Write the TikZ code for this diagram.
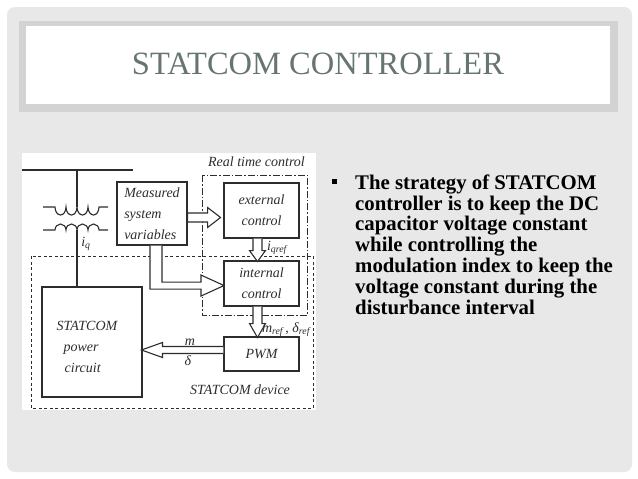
\documentclass[tikz,border=0pt]{standalone}
\usepackage{fontspec}
\setmainfont{Liberation Serif}
\usetikzlibrary{calc,positioning}

\definecolor{slide}{RGB}{232,232,232}
\definecolor{frame}{RGB}{211,211,211}
\definecolor{titlegray}{RGB}{102,118,110}
\definecolor{ink}{RGB}{45,45,45}

\begin{document}
\begin{tikzpicture}[x=1pt, y=-1pt,
    box/.style={draw=ink, line width=1.1pt, fill=white, inner sep=0pt},
    dtext/.style={font=\itshape\fontsize{14}{21}\selectfont, text=ink, inner sep=0pt},
    hollow/.style={draw=ink, fill=white, line width=1.1pt, line join=miter},
    wire/.style={draw=ink, line width=1.1pt}]
  \useasboundingbox (0,0) rectangle (638,479);
  % slide and title
  \fill[white] (0,0) rectangle (638,479);
  \fill[slide, rounded corners=8pt] (7,7) rectangle (632,472);
  \fill[frame] (19,21) rectangle (618,112);
  \fill[white] (26,26) rectangle (610,104);
  \node[text=titlegray, font=\fontsize{32.5}{32.5}\selectfont] (title) at (318,64) {STATCOM CONTROLLER};

  % diagram
  \fill[white] (22,153) rectangle (316,410);
  \draw[ink, line width=1pt, dash pattern=on 3pt off 2.5pt] (31,256) rectangle (313,408);
  \draw[ink, line width=1pt, dash pattern=on 7pt off 2pt on 1.5pt off 2pt] (202,175) rectangle (307,315);

  \node[box, dtext, minimum width=70pt, minimum height=63pt, align=left] (meas) at (152,213.5) {Measured\\system\\variables};
  \node[box, dtext, minimum width=75pt, minimum height=55pt, align=center] (ext) at (261.5,210.5) {external\\control};
  \node[box, dtext, minimum width=75pt, minimum height=45pt, align=center] (intc) at (261.5,283.5) {internal\\control};
  \node[box, dtext, minimum width=75pt, minimum height=34pt] (pwm) at (261.5,354) {PWM};
  \node[box, minimum width=100pt, minimum height=110pt] (power) at (92,342) {};
  \node[dtext, align=left, anchor=west] (powertext) at ($(power.west)+(15,5)$) {STATCOM\\\hspace*{7pt}power\\\hspace*{8pt}circuit};

  % bus and transformer
  \coordinate (busL) at (22,170);
  \coordinate (busR) at (133,170);
  \coordinate (tap) at (77,170);
  \draw[wire] (busL) -- (busR);
  \draw[wire] (tap) -- (77,207);
  \draw[wire] (43,207) -- (55,207)
    \foreach \k in {1,...,4} { arc[start angle=180, end angle=0, x radius=5.5, y radius=8] }
    -- (108,207);
  \draw[wire] (43,230) -- (55,230)
    \foreach \k in {1,...,4} { arc[start angle=180, end angle=360, x radius=5.5, y radius=6] }
    -- (108,230);
  \draw[wire] (77,230) -- (power.north -| tap);

  % hollow arrows
  \draw[hollow] ($(meas.east)+(0,-0.5)$) -- ++(20,0) -- ++(0,-5.5) -- ++(13,10) -- ++(-13,10) -- ++(0,-5.5) -- ++(-20,0) -- cycle;
  \draw[hollow] ($(meas.south)+(-2,0)$) -- ++(0,43.5) -- ++(51,0) -- ++(0,7) -- ++(23,-10.5) -- ++(-23,-10.5) -- ++(0,7) -- ++(-39,0) -- ++(0,-36.5);
  \draw[hollow] ($(ext.south)+(-8.5,0)$) -- ++(0,12) -- ++(-3.5,0) -- ++(8,11) -- ++(8,-11) -- ++(-3.5,0) -- ++(0,-12);
  \draw[hollow] ($(intc.south)+(-8.5,0)$) -- ++(0,17) -- ++(-3.5,0) -- ++(8,14) -- ++(8,-14) -- ++(-3.5,0) -- ++(0,-17);
  \draw[hollow] ($(pwm.west)+(0,-7.5)$) -- ++(-61,0) -- ++(0,-4) -- ++(-21,7.5) -- ++(21,7.5) -- ++(0,-4) -- ++(61,0);

  % labels
  \node[dtext] (rtclabel) at (256.5,162) {Real time control};
  \node[dtext] (devlabel) at (240,390) {STATCOM device};
  \node[dtext] (iq) at (86,244) {i\textsubscript{q}};
  \node[dtext] (iqref) at (277,248) {i\textsubscript{qref}};
  \node[dtext] (mdref) at (286,330) {m\textsubscript{ref}\,, δ\textsubscript{ref}};
  \node[dtext] (mlabel) at (190,342) {m};
  \node[dtext] (dlabel) at (188,361) {δ};

  % bullet text
  \node[fill=black, minimum size=5pt, inner sep=0pt] (bullet) at (334.5,181.5) {};
  \node[anchor=north west, inner sep=0pt, align=left, font=\bfseries\fontsize{20.8}{20.8}\selectfont] (point) at (355,174.5)
    {The strategy of STATCOM\\controller is to keep the DC\\capacitor voltage constant\\while controlling the\\modulation index to keep the\\voltage constant during the\\disturbance interval};
\end{tikzpicture}
\end{document}
